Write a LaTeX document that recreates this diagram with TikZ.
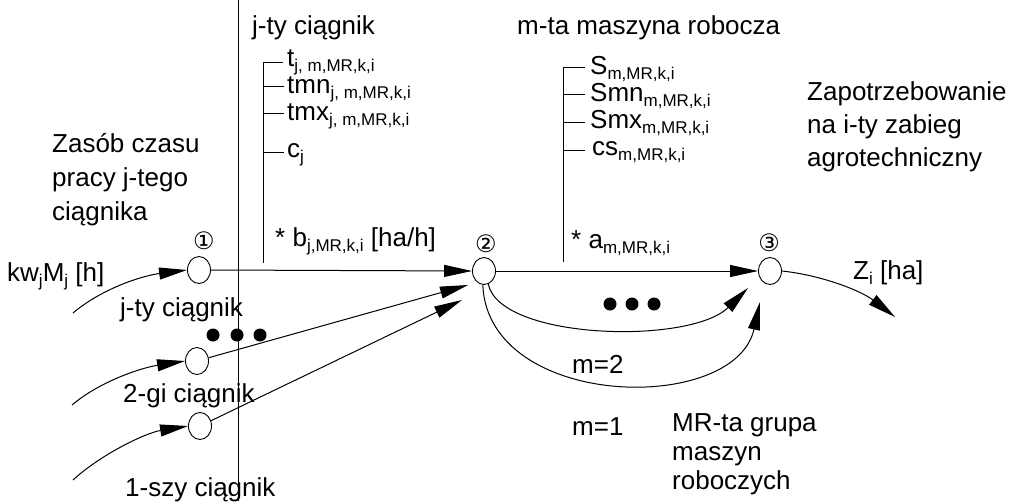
\documentclass[tikz,border=0pt]{standalone}
\usepackage{fontspec}
\setmainfont{Liberation Sans}
\newfontfamily\symfont{DejaVu Sans}
\usetikzlibrary{arrows.meta,shapes.geometric}

% lowered index in a smaller size
\newcommand{\lo}[1]{\raisebox{-5pt}{\fontsize{17}{17}\selectfont #1}}

\tikzset{
  txt/.style={font=\fontsize{26}{33}\selectfont, inner sep=0pt, anchor=base west},
  num/.style={font=\symfont\fontsize{24}{24}\selectfont, inner sep=0pt},
  vtx/.style={draw, ellipse, minimum width=23pt, minimum height=27pt, inner sep=0pt, line width=0.9pt},
  flow/.style={line width=1pt, -{Triangle[length=28pt,width=12pt]}},
  rule/.style={line width=1pt},
  bigdot/.style={circle, fill, minimum size=13pt, inner sep=0pt},
}

\begin{document}
\begin{tikzpicture}[x=1pt,y=-1pt]
\fill[white] (0,0) rectangle (1011,501);
\useasboundingbox (0,0) rectangle (1011,501);

% separator line
\coordinate (vt) at (238,0);
\coordinate (vb) at (238,501);
\draw[line width=0.8pt] (vt) -- (vb);

% vertices
\node[vtx] (n1)  at (199,270) {};
\node[vtx] (n2g) at (197,361) {};
\node[vtx] (n1s) at (200,426) {};
\node[vtx] (n2)  at (484,271) {};
\node[vtx] (n3)  at (770,271) {};

\node[num] (l1) at (204,241) {①};
\node[num] (l2) at (486,244) {②};
\node[num] (l3) at (769,243) {③};

% free ends of the connectors
\coordinate (s1) at (73,313);
\coordinate (s2) at (72,405);
\coordinate (s3) at (73,480);
\coordinate (t2) at (468,285);
\coordinate (t3) at (462,300);
\coordinate (u1) at (748,288);
\coordinate (u2) at (760,302);
\coordinate (zt) at (895,317);

% inflows of time resources
\draw[flow] (s1) .. controls (100,290) and (140,276) .. (n1.west);
\draw[flow] (s2) .. controls (99,382) and (140,368) .. (n2g.west);
\draw[flow] (s3) .. controls (100,455) and (145,433) .. (n1s.west);

% tractors to node 2
\draw[flow] (n1.east) -- (n2.west);
\draw[flow] (n2g) -- (t2);
\draw[flow] (n1s) -- (t3);

% machines to node 3
\draw[flow] (n2.east) -- (n3.west);
\draw[flow] (n2.-72) .. controls (500,340) and (690,345) .. (u1);
\draw[flow] (n2.-95) .. controls (488,410) and (735,415) .. (u2);

% outflow
\draw[flow] (n3.east) .. controls (820,275) and (860,290) .. (zt);

% dots
\node[bigdot] (d1) at (213,335) {};
\node[bigdot] (d2) at (237,335) {};
\node[bigdot] (d3) at (260,335) {};
\node[bigdot] (e1) at (610,304) {};
\node[bigdot] (e2) at (632,304) {};
\node[bigdot] (e3) at (654,304) {};

% tractor parameters
\node[txt] (hj) at (252,34) {j-ty ciągnik};
\draw[rule] (263,62) -- (263,263);
\draw[rule] (263,62) -- (283,62);
\draw[rule] (263,86) -- (284,86);
\draw[rule] (263,113) -- (284,113);
\draw[rule] (263,152) -- (284,152);
\node[txt] (pt)   at (287,66)  {t\lo{j, m,MR,k,i}};
\node[txt] (ptmn) at (287,93)  {tmn\lo{j, m,MR,k,i}};
\node[txt] (ptmx) at (287,120) {tmx\lo{j, m,MR,k,i}};
\node[txt] (pc)   at (287,157) {c\lo{j}};
\node[txt] (pb)   at (275,246) {* b\lo{j,MR,k,i} [ha/h]};

% machine parameters
\node[txt] (hm) at (517,34) {m-ta maszyna robocza};
\draw[rule] (563,67) -- (563,262);
\draw[rule] (563,67) -- (585,67);
\draw[rule] (563,94) -- (585,94);
\draw[rule] (563,122) -- (585,122);
\draw[rule] (563,150) -- (585,150);
\node[txt] (ps)   at (590,74)  {S\lo{m,MR,k,i}};
\node[txt] (psmn) at (590,101) {Smn\lo{m,MR,k,i}};
\node[txt] (psmx) at (590,128) {Smx\lo{m,MR,k,i}};
\node[txt] (pcs)  at (592,155) {cs\lo{m,MR,k,i}};
\node[txt] (pa)   at (571,248) {* a\lo{m,MR,k,i}};

% descriptions
\node[txt] (za1) at (52,152) {Zasób czasu};
\node[txt] (za2) at (52,186) {pracy j-tego};
\node[txt] (za3) at (52,220) {ciągnika};

\node[txt] (zp1) at (807,100) {Zapotrzebowanie};
\node[txt] (zp2) at (807,133) {na i-ty zabieg};
\node[txt] (zp3) at (807,166) {agrotechniczny};

\node[txt] (kw) at (7,281) {kw\lo{j}M\lo{j} [h]};
\node[txt] (zi) at (853,279) {Z\lo{i} [ha]};

\node[txt] (c1) at (120,316) {j-ty ciągnik};
\node[txt] (c2) at (123,402) {2-gi ciągnik};
\node[txt] (c3) at (125,496) {1-szy ciągnik};

\node[txt] (m2) at (572,373) {m=2};
\node[txt] (m1) at (572,435) {m=1};

\node[txt] (mr1) at (672,431) {MR-ta grupa};
\node[txt] (mr2) at (672,460) {maszyn};
\node[txt] (mr3) at (672,489) {roboczych};
\end{tikzpicture}
\end{document}
